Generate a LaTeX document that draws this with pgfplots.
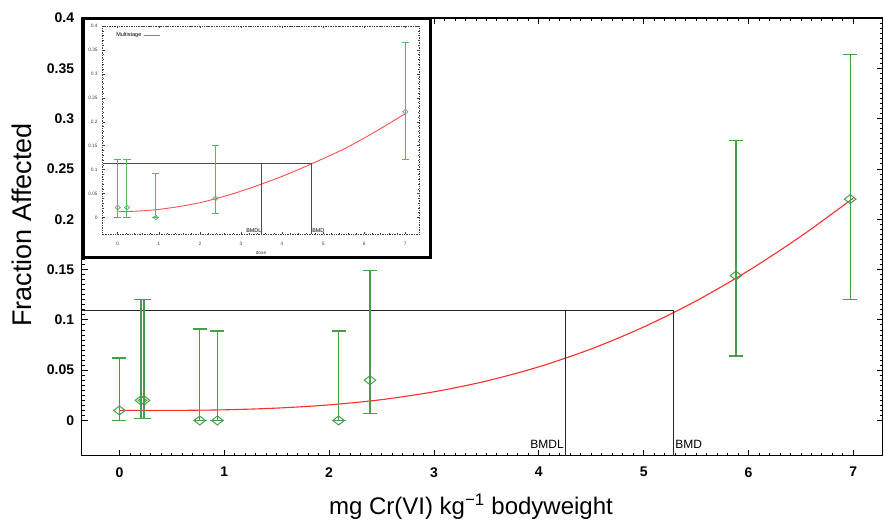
\documentclass[border=0pt]{standalone}
\usepackage{fontspec}
\setmainfont{Liberation Sans}
\setsansfont{Liberation Sans}
\usepackage{pgfplots}
\pgfplotsset{compat=1.18}

\definecolor{ebgreen}{RGB}{72,158,72}
\definecolor{fitred}{RGB}{255,45,45}
\definecolor{ltgreen}{RGB}{95,180,95}
\definecolor{ltred}{RGB}{255,80,80}

\begin{document}
\begin{tikzpicture}
\path[use as bounding box] (-81.7pt,-65.3pt) rectangle (802.3pt,455.7pt);

% main plot
\begin{axis}[
  scale only axis, width=801pt, height=437.7pt,
  xmin=-0.36, xmax=7.28, ymin=-0.035, ymax=0.4,
  xtick={0,1,2,3,4,5,6,7},
  ytick={0,0.05,0.1,0.15,0.2,0.25,0.3,0.35,0.4},
  minor x tick num=9, minor y tick num=9,
  tick align=inside,
  major tick length=6pt, minor tick length=3pt,
  axis line style={line width=1.3pt},
  every tick/.style={black, line width=0.8pt},
  /pgf/number format/assume math mode=true,
  yticklabel style={/pgf/number format/fixed, /pgf/number format/precision=2,
    font=\fontsize{14}{16}\selectfont\bfseries, xshift=-4pt},
  xticklabel style={font=\fontsize{14}{16}\selectfont\bfseries, yshift=-8pt},
  xlabel={mg Cr(VI) kg\textsuperscript{−1} bodyweight},
  ylabel={Fraction Affected},
  every axis x label/.style={at={(axis description cs:0.486,-0.117)}, anchor=center,
    font=\fontsize{24}{28}\selectfont},
  every axis y label/.style={at={(axis description cs:-0.0745,0.527)}, anchor=center,
    rotate=90, font=\fontsize{27}{30}\selectfont},
]
\addplot[fitred, line width=1.1pt, smooth] coordinates {
  (0,0.0100) (0.5,0.0100) (1,0.0106) (1.5,0.0123) (2,0.0155) (2.5,0.0207)
  (3,0.0285) (3.5,0.0392) (4,0.0533) (4.5,0.0711) (5,0.0929)
  (5.5,0.1188) (6,0.1489) (6.5,0.1831) (7,0.2210)};
\addplot[black!85, line width=1pt] coordinates {(-0.36,0.1093) (5.287,0.1093) (5.287,-0.035)};
\addplot[black!85, line width=1pt] coordinates {(4.25,-0.035) (4.25,0.1093)};
\addplot[ebgreen, only marks, mark=diamond, mark size=4.5pt,
  mark options={xscale=1.7, line width=1pt},
  error bars/.cd, y dir=both, y explicit,
  error bar style={line width=1.3pt, ebgreen},
  error mark options={rotate=90, ebgreen, mark size=7pt, line width=1.3pt}]
  table[x=x, y=y, y error plus=ep, y error minus=em] {
x y ep em
0.000 0.010 0.052 0.010
0.205 0.020 0.100 0.018
0.235 0.020 0.100 0.018
0.766 0.000 0.091 0.000
0.934 0.000 0.089 0.000
2.090 0.000 0.089 0.000
2.390 0.040 0.109 0.033
5.880 0.144 0.134 0.080
6.970 0.220 0.1435 0.100
};
\node[anchor=south east, inner sep=0pt, font=\fontsize{12}{14}\selectfont]
  at (axis cs:4.24,-0.0285) {BMDL};
\node[anchor=south west, inner sep=0pt, font=\fontsize{12}{14}\selectfont]
  at (axis cs:5.30,-0.0285) {BMD};
\end{axis}

% inset frame
\draw[line width=3pt, fill=white] (1.8pt,197.9pt) rectangle (348.5pt,437.5pt);

% inset plot
\begin{axis}[
  at={(21pt,221.4pt)}, anchor=south west,
  scale only axis, width=316.6pt, height=208.3pt,
  xmin=-0.365, xmax=7.34, ymin=-0.035, ymax=0.4,
  xtick={0,1,2,3,4,5,6,7},
  ytick={0,0.05,0.1,0.15,0.2,0.25,0.3,0.35,0.4},
  minor x tick num=4, minor y tick num=4,
  tick align=inside,
  major tick length=2.5pt, minor tick length=1.3pt,
  axis line style={black!75, line width=0.7pt, densely dotted},
  every tick/.style={black!75, line width=0.5pt},
  /pgf/number format/assume math mode=true,
  yticklabel style={/pgf/number format/fixed, /pgf/number format/precision=2,
    font=\fontsize{4.8}{5}\selectfont, text=black!75, xshift=-1.5pt},
  xticklabel style={font=\fontsize{4.8}{5}\selectfont, text=black!75, yshift=-4pt},
  xlabel={dose},
  every axis x label/.style={at={(axis description cs:0.5,-0.088)}, anchor=center,
    font=\fontsize{4.8}{5}\selectfont, text=black!75},
  legend style={at={(rel axis cs:0.036,0.978)}, anchor=north west, draw=none, fill=none,
    font=\fontsize{5.5}{6}\selectfont, inner sep=0pt},
  legend plot pos=right,
  legend image code/.code={\draw[draw=ltred, line width=1pt] (0pt,0pt) -- (16pt,0pt);},
]
\addplot[ltred, line width=0.9pt, smooth] coordinates {
  (0,0.012) (0.5,0.0135) (1,0.017) (1.5,0.023) (2,0.031) (2.5,0.042) (3,0.055)
  (3.5,0.070) (4,0.086) (4.5,0.104) (5,0.123) (5.5,0.143)
  (6,0.166) (6.5,0.191) (7,0.217)};
\addlegendentry{Multistage}
\addplot[black!70, line width=0.6pt, forget plot] coordinates {(-0.365,0.1124) (4.72,0.1124) (4.72,-0.035)};
\addplot[black!70, line width=0.6pt, forget plot] coordinates {(3.5,-0.035) (3.5,0.1124)};
\addplot[ltgreen, only marks, mark=diamond, mark size=2.3pt, forget plot,
  mark options={xscale=1.5, line width=0.7pt},
  error bars/.cd, y dir=both, y explicit,
  error bar style={line width=1pt, draw=ltgreen},
  error mark options={rotate=90, draw=ltgreen, mark size=3.7pt, line width=1pt}]
  table[x=x, y=y, y error plus=ep, y error minus=em] {
x y ep em
0.000 0.021 0.100 0.020
0.226 0.021 0.100 0.020
0.925 0.000 0.0915 0.000
2.380 0.040 0.110 0.032
7.000 0.221 0.145 0.0995
};
\node[anchor=south east, inner sep=0pt, font=\fontsize{5.4}{6}\selectfont]
  at (axis cs:3.5,-0.031) {BMDL};
\node[anchor=south west, inner sep=0pt, font=\fontsize{5.4}{6}\selectfont]
  at (axis cs:4.73,-0.031) {BMD};
\end{axis}
\end{tikzpicture}
\end{document}
